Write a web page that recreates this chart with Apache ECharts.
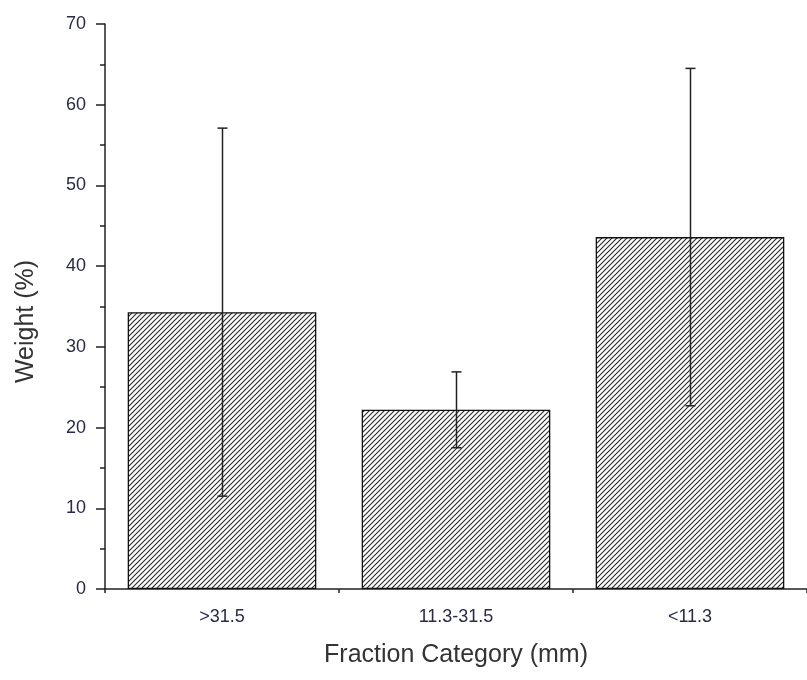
<!DOCTYPE html>
<html>
<head>
<meta charset="utf-8">
<script src="https://cdn.jsdelivr.net/npm/echarts@6/dist/echarts.min.js"></script>
<style>
  html, body { margin: 0; padding: 0; background: #fff; }
  #main { width: 807px; height: 680px; }
</style>
</head>
<body>
<div id="main"></div>
<script>
var categories = ['>31.5', '11.3-31.5', '<11.3'];
var weights = [34.3, 22.2, 43.6];   // bar heights, %
var errors = [22.8, 4.7, 20.9];     // +/- error, %
var yTicks = { min: 0, max: 70, step: 10 };

// hatch fill: diagonal lines like the original
function hatch() {
    var c = document.createElement('canvas');
    c.width = 5; c.height = 5;
    var g = c.getContext('2d');
    g.fillStyle = '#fff';
    g.fillRect(0, 0, 5, 5);
    g.strokeStyle = '#2a2a2a';
    g.lineWidth = 1.1;
    g.beginPath();
    g.moveTo(-1, 6); g.lineTo(6, -1);
    g.moveTo(-1, 1); g.lineTo(1, -1);
    g.moveTo(4, 6); g.lineTo(6, 4);
    g.stroke();
    return c;
}

var myChart = echarts.init(document.getElementById('main'));
var txt = '#2a2a48';
var axisCol = '#222';
var option = {
    animation: false,
    backgroundColor: '#fff',
    grid: { left: 105, top: 24, width: 704, height: 565 },
    xAxis: [{
        type: 'category',
        data: categories,
        name: 'Fraction Category (mm)',
        nameLocation: 'middle',
        nameGap: 54,
        nameMoveOverlap: false,
        nameTextStyle: { fontSize: 25, color: '#333', fontFamily: 'Liberation Sans' },
        axisLine: { lineStyle: { color: axisCol, width: 1.5 } },
        axisTick: { alignWithLabel: true, length: 8, lineStyle: { color: axisCol, width: 1.5 } },
        axisLabel: { fontSize: 18, color: txt, margin: 19, fontFamily: 'Liberation Sans' }
    }, {
        // short ticks at category boundaries
        type: 'category',
        data: categories,
        position: 'bottom',
        axisLine: { show: false },
        axisTick: { show: true, length: 4, lineStyle: { color: axisCol, width: 1.5 } },
        axisLabel: { show: false }
    }],
    yAxis: {
        type: 'value',
        min: yTicks.min, max: yTicks.max, interval: yTicks.step,
        name: 'Weight (%)',
        nameLocation: 'middle',
        nameGap: 66,
        nameMoveOverlap: false,
        nameTextStyle: { fontSize: 25, color: '#333', fontFamily: 'Liberation Sans', padding: [0, 30, 0, 0] },
        axisLine: { show: true, lineStyle: { color: axisCol, width: 1.5 } },
        axisTick: { show: true, length: 9, lineStyle: { color: axisCol, width: 1.5 } },
        minorTick: { show: true, splitNumber: 2, length: 5, lineStyle: { color: axisCol, width: 1.5 } },
        splitLine: { show: false },
        axisLabel: { fontSize: 18, color: txt, margin: 19, fontFamily: 'Liberation Sans' }
    },
    series: [
        {
            type: 'bar',
            data: weights,
            barWidth: '80.6%',
            itemStyle: {
                color: { image: hatch(), repeat: 'repeat' },
                borderColor: '#111',
                borderWidth: 1.3
            }
        },
        {
            type: 'custom',
            z: 5,
            data: weights.map(function (v, i) { return [i, v - errors[i], v + errors[i]]; }),
            renderItem: function (params, api) {
                var lo = api.coord([api.value(0), api.value(1)]);
                var hi = api.coord([api.value(0), api.value(2)]);
                var x = Math.round(lo[0]) + 0.5;
                var s = { stroke: '#222', lineWidth: 1.5 };
                return {
                    type: 'group',
                    children: [
                        { type: 'line', shape: { x1: x, y1: hi[1], x2: x, y2: lo[1] }, style: s },
                        { type: 'line', shape: { x1: x - 5, y1: hi[1], x2: x + 5, y2: hi[1] }, style: s },
                        { type: 'line', shape: { x1: x - 5, y1: lo[1], x2: x + 5, y2: lo[1] }, style: s }
                    ]
                };
            }
        }
    ]
};
myChart.setOption(option);
</script>
</body>
</html>
